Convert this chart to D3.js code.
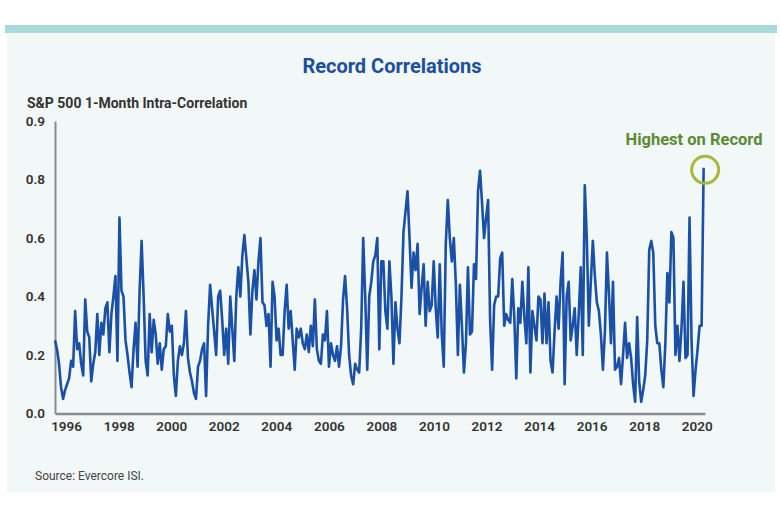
<!DOCTYPE html>
<html><head><meta charset="utf-8">
<script src="https://cdn.jsdelivr.net/npm/d3@7"></script>
<style>
body{margin:0;background:#fff;}
svg{display:block;font-family:Roboto,"Open Sans",sans-serif;}
</style>
</head><body>
<svg id="chart" width="780" height="516"></svg>
<script>
const chartTitle = "Record Correlations";
const yAxisTitle = "S&P 500 1-Month Intra-Correlation";
const annotationText = "Highest on Record";
const sourceText = "Source: Evercore ISI.";
const xTickYears = [1996,1998,2000,2002,2004,2006,2008,2010,2012,2014,2016,2018,2020];
const yTickValues = [0, 0.2, 0.4, 0.6, 0.8, 1.0];
const yTickLabels = ["0.0","0.2","0.4","0.6","0.8","0.9"];
const seriesStart = [1995, 6, 31];
const stepDays = 28;

const corr1995to2001 = [
0.25,0.22,0.17,0.09,0.05,0.08,0.10,0.12,0.18,0.16,
0.35,0.22,0.24,0.17,0.13,0.39,0.28,0.26,0.11,0.17,
0.21,0.34,0.20,0.31,0.27,0.36,0.38,0.21,0.34,0.40,
0.47,0.18,0.67,0.42,0.40,0.25,0.20,0.14,0.09,0.22,
0.31,0.16,0.42,0.59,0.40,0.18,0.13,0.34,0.21,0.32,
0.27,0.17,0.24,0.15,0.22,0.23,0.34,0.28,0.30,0.13,
0.06,0.18,0.23,0.20,0.24,0.35,0.19,0.14,0.11,0.07,
0.05,0.16,0.18,0.22,0.24,0.06,0.30,0.44,0.36,0.28,
0.20];
const corr2001to2007 = [
0.40,0.42,0.32,0.20,0.29,0.17,0.40,0.29,0.18,0.40,
0.50,0.40,0.54,0.61,0.53,0.45,0.27,0.42,0.49,0.39,
0.52,0.60,0.38,0.37,0.30,0.34,0.16,0.45,0.40,0.25,
0.29,0.20,0.20,0.35,0.44,0.29,0.35,0.25,0.15,0.29,
0.26,0.29,0.24,0.22,0.27,0.21,0.30,0.23,0.39,0.22,
0.18,0.17,0.27,0.25,0.35,0.16,0.24,0.20,0.18,0.23,
0.16,0.23,0.39,0.47,0.36,0.20,0.13,0.10,0.17,0.15,
0.14,0.29,0.60,0.40,0.15,0.40,0.45,0.52,0.54,0.60,
0.22];
const corr2007to2014 = [
0.52,0.52,0.35,0.29,0.52,0.40,0.17,0.38,0.29,
0.24,0.40,0.62,0.69,0.76,0.60,0.43,0.55,0.49,0.58,
0.34,0.43,0.51,0.30,0.45,0.35,0.37,0.52,0.36,0.26,
0.51,0.27,0.16,0.58,0.73,0.60,0.52,0.60,0.44,0.20,
0.44,0.30,0.14,0.24,0.50,0.27,0.28,0.51,0.46,0.76,
0.83,0.72,0.60,0.67,0.73,0.32,0.15,0.37,0.40,0.40,
0.53,0.55,0.30,0.34,0.32,0.31,0.46,0.33,0.12,0.36,
0.31,0.45,0.33,0.24,0.50,0.14,0.35,0.30,0.25,0.40,
0.39,0.24];
const corr2014to2020 = [
0.41,0.24,0.38,0.18,0.14,0.28,0.40,0.29,
0.45,0.55,0.10,0.40,0.45,0.25,0.30,0.36,0.20,0.34,
0.50,0.20,0.78,0.60,0.30,0.45,0.59,0.47,0.38,0.35,
0.27,0.15,0.28,0.55,0.41,0.24,0.45,0.15,0.16,0.19,
0.10,0.20,0.31,0.19,0.24,0.19,0.10,0.04,0.33,0.11,
0.04,0.08,0.13,0.25,0.56,0.59,0.55,0.30,0.24,0.24,
0.15,0.09,0.24,0.48,0.38,0.62,0.60,0.20,0.30,0.18,
0.29,0.45,0.19,0.20,0.67,0.25,0.06,0.15,0.22,0.30,
0.30,0.84];

const values = [].concat(corr1995to2001, corr2001to2007, corr2007to2014, corr2014to2020);
const start = new Date(seriesStart[0], seriesStart[1], seriesStart[2]);
const data = values.map((v, i) => ({date: d3.timeDay.offset(start, i * stepDays), value: v}));

const svg = d3.select("#chart");

// background
svg.append("rect").attr("x",0).attr("y",0).attr("width",780).attr("height",516).attr("fill","#ffffff");
svg.append("rect").attr("x",7).attr("y",33).attr("width",768).attr("height",459).attr("fill","#f2f7f8");
svg.append("rect").attr("x",5).attr("y",25).attr("width",772).attr("height",8).attr("fill","#a9d9db");

const x = d3.scaleTime()
  .domain([new Date(1995,6,31), new Date(2020,3,25)])
  .range([55, 705]);
const y = d3.scaleLinear().domain([0, 1]).range([413.5, 121]);

// title
svg.append("text").attr("x",392).attr("y",73).attr("text-anchor","middle")
  .attr("font-size",20).attr("font-weight",700).attr("fill","#1c4f9c").text(chartTitle);

svg.append("text").attr("x",27).attr("y",108).attr("font-size",14).attr("font-weight",700)
  .attr("fill","#333").text(yAxisTitle);

// axes
const yAxis = svg.append("g").attr("transform","translate(55,0)")
  .call(d3.axisLeft(y).tickValues(yTickValues).tickFormat((d,i)=>yTickLabels[i]).tickSize(0).tickSizeOuter(0).tickPadding(10));
yAxis.select(".domain").attr("stroke","#8c8c8c").attr("stroke-width",2);
yAxis.selectAll("text").attr("font-size",13.5).attr("font-weight",600).attr("fill","#333").attr("font-family","Roboto");

const xAxis = svg.append("g").attr("transform","translate(0,413.5)")
  .call(d3.axisBottom(x).tickValues(xTickYears.map(yr=>new Date(yr,0,1))).tickFormat(d3.timeFormat("%Y")).tickSize(0).tickSizeOuter(0).tickPadding(8));
xAxis.select(".domain").attr("stroke","#8c8c8c").attr("stroke-width",2.5);
xAxis.selectAll("text").attr("font-size",13.5).attr("font-weight",600).attr("fill","#333").attr("font-family","Roboto");

// line
const line = d3.line().x(d=>x(d.date)).y(d=>y(d.value));
svg.append("path").datum(data).attr("d",line).attr("fill","none")
  .attr("stroke","#1a50a5").attr("stroke-width",2.6).attr("stroke-linejoin","round");

// annotation
const last = data[data.length-1];
svg.append("circle").attr("cx",x(last.date)+1.5).attr("cy",y(last.value)+2).attr("r",13.5)
  .attr("fill","none").attr("stroke","#a8b83e").attr("stroke-width",3);
svg.append("text").attr("x",694).attr("y",145).attr("text-anchor","middle")
  .attr("font-size",16.5).attr("font-weight",700).attr("fill","#5b8a35").text(annotationText);

svg.append("text").attr("x",35).attr("y",480).attr("font-size",12).attr("fill","#444").text(sourceText);
</script>
</body></html>
